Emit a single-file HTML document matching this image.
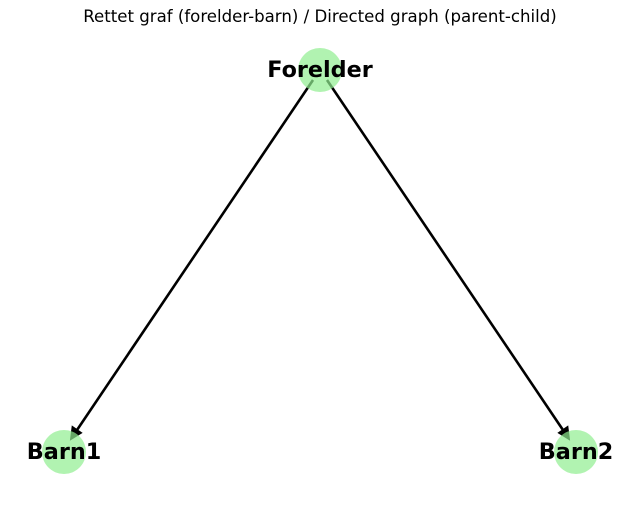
<!DOCTYPE html>
<html><head><meta charset="utf-8"><style>body{margin:0;background:#fff}</style></head>
<body>
<svg width="640" height="502" viewBox="0 0 640 502" xmlns="http://www.w3.org/2000/svg">
<rect width="640" height="502" fill="#fff"/>
<text x="320" y="22" text-anchor="middle" font-family="DejaVu Sans, Liberation Sans, sans-serif" font-size="16.6" fill="#000">Rettet graf (forelder-barn) / Directed graph (parent-child)</text>
<g stroke="#000" stroke-width="2.6" fill="none">
<line x1="313" y1="80" x2="75" y2="433"/>
<line x1="327" y1="80" x2="565" y2="433"/>
</g>
<polygon points="71,439 72.5,427 81,432.8" fill="#000" stroke="#000" stroke-width="1.8"/>
<polygon points="569,439 567.5,427 559,432.8" fill="#000" stroke="#000" stroke-width="1.8"/>
<g fill="#90ee90" fill-opacity="0.7">
<circle cx="320" cy="70" r="22"/>
<circle cx="64" cy="452" r="22"/>
<circle cx="576" cy="452" r="22"/>
</g>
<g font-family="DejaVu Sans, Liberation Sans, sans-serif" font-size="22.3" font-weight="bold" text-anchor="middle" fill="#000">
<text x="320" y="77">Forelder</text>
<text x="64" y="459">Barn1</text>
<text x="576" y="459">Barn2</text>
</g>
</svg>
</body></html>
